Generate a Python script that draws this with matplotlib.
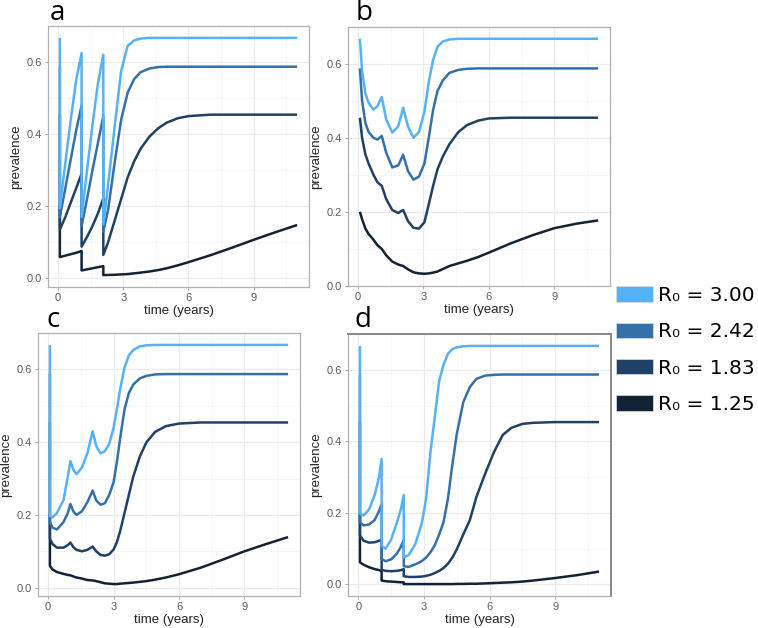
import matplotlib.pyplot as plt
from matplotlib.patches import Patch

# valores de R0 e cores (escala azul do ggplot)
r0_labels = ['R₀ = 3.00', 'R₀ = 2.42', 'R₀ = 1.83', 'R₀ = 1.25']
r0_colors = ['#56B1F7', '#3470AA', '#1F4166', '#122338']

# painel a
a_time = [0.08, 0.08, 0.33, 0.58, 0.83, 1.08, 1.08, 1.33, 1.58, 1.83, 2.08, 2.08, 2.3, 2.6,
          2.9, 3.2, 3.5, 3.8, 4.2, 4.6, 5.0, 5.5, 6.0, 7.0, 8.0, 9.0, 10.0, 11.0]
a_300 = [0.667, 0.195, 0.32, 0.44, 0.55, 0.625, 0.17, 0.30, 0.425, 0.54, 0.62, 0.15, 0.26, 0.42,
         0.575, 0.645, 0.66, 0.665, 0.667, 0.667, 0.667, 0.667, 0.667, 0.667, 0.667, 0.667, 0.667, 0.667]
a_242 = [0.587, 0.17, 0.25, 0.33, 0.41, 0.48, 0.145, 0.22, 0.30, 0.375, 0.45, 0.13, 0.19, 0.32,
         0.44, 0.515, 0.553, 0.572, 0.582, 0.586, 0.587, 0.587, 0.587, 0.587, 0.587, 0.587, 0.587, 0.587]
a_183 = [0.454, 0.135, 0.17, 0.21, 0.25, 0.29, 0.088, 0.115, 0.145, 0.18, 0.222, 0.065, 0.10, 0.16,
         0.22, 0.28, 0.325, 0.36, 0.393, 0.416, 0.432, 0.444, 0.45, 0.454, 0.454, 0.454, 0.454, 0.454]
a_125 = [0.2, 0.059, 0.063, 0.067, 0.071, 0.076, 0.022, 0.025, 0.028, 0.031, 0.034, 0.009, 0.0095, 0.010,
         0.011, 0.012, 0.014, 0.016, 0.019, 0.023, 0.028, 0.036, 0.045, 0.064, 0.085, 0.107, 0.128, 0.148]

# painel b
b_time = [0.1, 0.2, 0.35, 0.5, 0.72, 0.9, 1.1, 1.3, 1.58, 1.85, 2.08, 2.3, 2.55, 2.8, 3.05,
          3.25, 3.45, 3.65, 3.9, 4.2, 4.6, 5.0, 5.5, 6.0, 7.0, 8.0, 9.0, 10.0, 11.0]
b_300 = [0.667, 0.58, 0.52, 0.494, 0.476, 0.485, 0.51, 0.45, 0.414, 0.43, 0.481, 0.43, 0.40, 0.415, 0.47,
         0.55, 0.61, 0.645, 0.66, 0.665, 0.667, 0.667, 0.667, 0.667, 0.667, 0.667, 0.667, 0.667, 0.667]
b_242 = [0.587, 0.50, 0.44, 0.415, 0.40, 0.395, 0.405, 0.36, 0.32, 0.325, 0.354, 0.31, 0.287, 0.295, 0.33,
         0.40, 0.475, 0.526, 0.555, 0.575, 0.583, 0.586, 0.587, 0.587, 0.587, 0.587, 0.587, 0.587, 0.587]
b_183 = [0.454, 0.40, 0.355, 0.33, 0.30, 0.28, 0.27, 0.235, 0.205, 0.197, 0.205, 0.175, 0.157, 0.155, 0.172,
         0.22, 0.27, 0.315, 0.35, 0.383, 0.415, 0.434, 0.446, 0.452, 0.454, 0.454, 0.454, 0.454, 0.454]
b_125 = [0.20, 0.18, 0.155, 0.14, 0.125, 0.11, 0.10, 0.083, 0.066, 0.058, 0.054, 0.045, 0.037, 0.034, 0.033,
         0.034, 0.036, 0.039, 0.046, 0.054, 0.061, 0.068, 0.078, 0.09, 0.115, 0.137, 0.156, 0.168, 0.177]

# painel c
c_time = [0.08, 0.08, 0.2, 0.4, 0.7, 0.9, 1.02, 1.15, 1.3, 1.55, 1.8, 2.04, 2.2, 2.4, 2.6, 2.8,
          3.0, 3.15, 3.3, 3.5, 3.7, 3.9, 4.2, 4.5, 4.9, 5.4, 6.0, 7.0, 8.0, 9.0, 10.0, 11.0]
c_300 = [0.667, 0.197, 0.193, 0.205, 0.24, 0.305, 0.348, 0.325, 0.312, 0.33, 0.37, 0.43, 0.39, 0.369, 0.375, 0.395,
         0.44, 0.49, 0.545, 0.605, 0.638, 0.653, 0.663, 0.666, 0.667, 0.667, 0.667, 0.667, 0.667, 0.667, 0.667, 0.667]
c_242 = [0.587, 0.18, 0.165, 0.16, 0.18, 0.205, 0.23, 0.21, 0.20, 0.21, 0.235, 0.267, 0.24, 0.228, 0.232, 0.255,
         0.29, 0.345, 0.41, 0.49, 0.535, 0.558, 0.575, 0.582, 0.586, 0.587, 0.587, 0.587, 0.587, 0.587, 0.587, 0.587]
c_183 = [0.454, 0.135, 0.12, 0.11, 0.11, 0.117, 0.124, 0.112, 0.104, 0.10, 0.104, 0.113, 0.10, 0.09, 0.088, 0.092,
         0.105, 0.125, 0.155, 0.205, 0.255, 0.305, 0.36, 0.399, 0.428, 0.444, 0.451, 0.454, 0.454, 0.454, 0.454, 0.454]
c_125 = [0.2, 0.06, 0.05, 0.043, 0.038, 0.035, 0.034, 0.031, 0.028, 0.025, 0.021, 0.02, 0.018, 0.015, 0.012, 0.011,
         0.01, 0.01, 0.011, 0.012, 0.013, 0.014, 0.016, 0.018, 0.022, 0.028, 0.037, 0.055, 0.077, 0.1, 0.12, 0.139]

# painel d
d_time = [0.08, 0.08, 0.25, 0.5, 0.75, 0.95, 1.07, 1.07, 1.25, 1.5, 1.75, 1.95, 2.08, 2.08, 2.3, 2.6, 2.9, 3.1, 3.3,
          3.5, 3.7, 3.9, 4.1, 4.3, 4.5, 4.8, 5.1, 5.4, 5.8, 6.2, 6.6, 7.0, 7.5, 8.0, 9.0, 10.0, 11.0]
d_300 = [0.667, 0.197, 0.193, 0.21, 0.25, 0.30, 0.351, 0.108, 0.10, 0.125, 0.17, 0.21, 0.25, 0.076, 0.082, 0.112, 0.17, 0.24, 0.37,
         0.47, 0.57, 0.615, 0.645, 0.658, 0.663, 0.666, 0.667, 0.667, 0.667, 0.667, 0.667, 0.667, 0.667, 0.667, 0.667, 0.667, 0.667]
d_242 = [0.587, 0.174, 0.165, 0.168, 0.18, 0.205, 0.225, 0.071, 0.065, 0.07, 0.085, 0.105, 0.125, 0.051, 0.049, 0.056, 0.065, 0.075, 0.09,
         0.11, 0.14, 0.175, 0.24, 0.335, 0.42, 0.51, 0.552, 0.575, 0.584, 0.586, 0.587, 0.587, 0.587, 0.587, 0.587, 0.587, 0.587]
d_183 = [0.454, 0.137, 0.122, 0.117, 0.118, 0.122, 0.125, 0.041, 0.038, 0.037, 0.038, 0.04, 0.043, 0.023, 0.021, 0.021, 0.022, 0.024, 0.027,
         0.032, 0.038, 0.046, 0.058, 0.075, 0.098, 0.14, 0.18, 0.245, 0.31, 0.37, 0.418, 0.438, 0.449, 0.452, 0.454, 0.454, 0.454]
d_125 = [0.2, 0.062, 0.055, 0.048, 0.043, 0.04, 0.038, 0.011, 0.009, 0.008, 0.007, 0.006, 0.006, 0.001, 0.001, 0.001, 0.001, 0.001, 0.001,
         0.001, 0.001, 0.001, 0.001, 0.001, 0.0015, 0.0015, 0.002, 0.002, 0.003, 0.004, 0.005, 0.006, 0.008, 0.011, 0.018, 0.026, 0.036]

panels = [
    ('a', a_time, [a_300, a_242, a_183, a_125]),
    ('b', b_time, [b_300, b_242, b_183, b_125]),
    ('c', c_time, [c_300, c_242, c_183, c_125]),
    ('d', d_time, [d_300, d_242, d_183, d_125]),
]

x_ticks = [0, 3, 6, 9]
y_ticks = [0.0, 0.2, 0.4, 0.6]

W, H = 758, 628
# retângulos dos eixos em pixels (esq, topo, dir, base)
rects = [(48, 26, 309, 287), (348, 27, 610, 286), (38, 333, 300, 596), (348, 334, 611, 596)]
letter_pos = [(50, 20), (356, 20), (47, 327), (354, 327)]

fig = plt.figure(figsize=(W / 100, H / 100), dpi=100)

for (letra, tempo, series), (l, t, r, b), (lx, ly) in zip(panels, rects, letter_pos):
    ax = fig.add_axes([l / W, 1 - b / H, (r - l) / W, (b - t) / H])
    # desenha do menor R0 para o maior (azul claro por cima)
    for valores, cor in reversed(list(zip(series, r0_colors))):
        ax.plot(tempo, valores, color=cor, lw=1.8, solid_joinstyle='round', solid_capstyle='butt')
    ax.margins(x=0.05, y=0.05)

    ax.set_xticks(x_ticks)
    ax.set_yticks(y_ticks)
    ax.set_yticklabels([f'{v:.1f}' for v in y_ticks])
    ax.set_xticks([1.5, 4.5, 7.5, 10.5], minor=True)
    ax.set_yticks([0.1, 0.3, 0.5], minor=True)
    ax.grid(which='major', color='#EBEBEB', lw=0.9)
    ax.grid(which='minor', color='#F4F4F4', lw=0.5)
    ax.set_axisbelow(True)
    ax.tick_params(which='major', length=2.5, width=0.6, color='#999999', labelcolor='#5A5A5A',
                   labelsize=8, pad=2)
    ax.tick_params(which='minor', length=0)
    for s in ax.spines.values():
        s.set_color('#B0B0B0')
        s.set_linewidth(0.9)
    if letra == 'd':
        ax.spines['top'].set_color('#888888')
        ax.spines['right'].set_color('#888888')
        ax.spines['top'].set_linewidth(1.4)
        ax.spines['right'].set_linewidth(1.4)

    ax.set_xlabel('time (years)', fontsize=9.5, color='#222222', labelpad=1,
                  family='Liberation Sans')
    ax.set_ylabel('prevalence', fontsize=9.5, color='#222222', labelpad=3,
                  family='Liberation Sans')
    for lab in ax.get_xticklabels() + ax.get_yticklabels():
        lab.set_family('Liberation Sans')

    fig.text(lx / W, 1 - ly / H, letra, fontsize=20, family='Open Sans', va='baseline', ha='left')

# legenda comum
handles = [Patch(facecolor=c, edgecolor='#DDDDDD', lw=0.5) for c in r0_colors]
fig.legend(handles, r0_labels, loc='upper left', bbox_to_anchor=(616 / W, 1 - 286 / H),
           frameon=False, fontsize=14.5, handlelength=1.85, handleheight=0.8,
           handletextpad=0.25, labelspacing=0.86, borderpad=0, borderaxespad=0)

plt.savefig('out.png', dpi=100)
